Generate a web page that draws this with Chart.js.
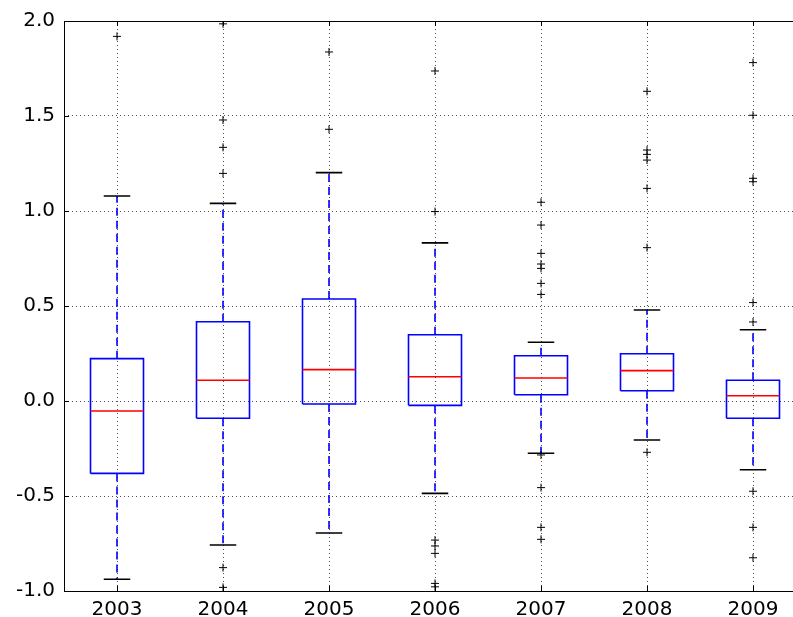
<!DOCTYPE html>
<html>
<head>
<meta charset="utf-8">
<script src="https://cdn.jsdelivr.net/npm/chart.js@4/dist/chart.umd.min.js"></script>
<style>
  html, body { margin: 0; padding: 0; background: #fff; overflow: hidden; }
  #clip { width: 793px; height: 617px; overflow: hidden; position: relative; }
  #box-chart { display: block; position: absolute; left: 0; top: 0; }
</style>
</head>
<body>
<div id="clip"><canvas id="box-chart" width="811" height="617"></canvas></div>
<script>
// box plot stats per year
const years = ['2003', '2004', '2005', '2006', '2007', '2008', '2009'];
const q1 = [-0.381, -0.091, -0.016, -0.023, 0.033, 0.054, -0.091];
const q3 = [0.223, 0.417, 0.537, 0.349, 0.238, 0.249, 0.109];
const medians = [-0.053, 0.109, 0.165, 0.128, 0.121, 0.160, 0.028];
const whiskLow = [-0.938, -0.758, -0.695, -0.486, -0.275, -0.205, -0.362];
const whiskHigh = [1.079, 1.040, 1.202, 0.832, 0.309, 0.479, 0.375];
const fliers = [
    [1.919],
    [1.985, 1.479, 1.335, 1.198, -0.877, -0.981],
    [1.837, 1.430],
    [1.737, 0.997, -0.732, -0.763, -0.802, -0.960, -0.978],
    [1.046, 0.926, 0.777, 0.721, 0.698, 0.619, 0.561, -0.284, -0.456, -0.665, -0.728],
    [1.630, 1.321, 1.298, 1.268, 1.119, 0.807, -0.270],
    [1.781, 1.504, 1.172, 1.154, 0.518, 0.416, -0.475, -0.665, -0.825]
];
const yTicks = [-1.0, -0.5, 0.0, 0.5, 1.0, 1.5, 2.0];

document.addEventListener('DOMContentLoaded', () => {
    const boxHalf = 0.25;
    const capHalf = 0.125;

    const boxPts = [], medPts = [], whiskPts = [], capPts = [], flierPts = [];
    years.forEach((y, i) => {
        const x = i + 1;
        boxPts.push({x: x - boxHalf, y: q1[i]}, {x: x + boxHalf, y: q1[i]},
                    {x: x + boxHalf, y: q3[i]}, {x: x - boxHalf, y: q3[i]},
                    {x: x - boxHalf, y: q1[i]}, {x: x, y: null});
        medPts.push({x: x - boxHalf, y: medians[i]}, {x: x + boxHalf, y: medians[i]}, {x: x, y: null});
        whiskPts.push({x: x, y: q3[i]}, {x: x, y: whiskHigh[i]}, {x: x, y: null},
                      {x: x, y: q1[i]}, {x: x, y: whiskLow[i]}, {x: x, y: null});
        capPts.push({x: x - capHalf, y: whiskHigh[i]}, {x: x + capHalf, y: whiskHigh[i]}, {x: x, y: null},
                    {x: x - capHalf, y: whiskLow[i]}, {x: x + capHalf, y: whiskLow[i]}, {x: x, y: null});
        fliers[i].forEach(v => flierPts.push({x: x, y: v}));
    });

    const lineDs = (data, color, width, dash) => ({
        data: data,
        showLine: true,
        spanGaps: false,
        borderColor: color,
        borderWidth: width,
        borderDash: dash || [],
        borderJoinStyle: 'miter',
        pointRadius: 0,
        fill: false,
        tension: 0
    });

    // frame + inward ticks like matplotlib classic
    const framePlugin = {
        id: 'frame',
        afterDraw(chart) {
            const {ctx, chartArea: a, scales} = chart;
            ctx.save();
            ctx.strokeStyle = '#000';
            ctx.lineWidth = 1;
            ctx.setLineDash([]);
            ctx.beginPath();
            yTicks.forEach(v => {
                const py = Math.round(scales.y.getPixelForValue(v)) + 0.5;
                ctx.moveTo(a.left, py); ctx.lineTo(a.left + 5, py);
            });
            years.forEach((y, i) => {
                const px = Math.round(scales.x.getPixelForValue(i + 1)) + 0.5;
                ctx.moveTo(px, a.bottom); ctx.lineTo(px, a.bottom - 5);
                ctx.moveTo(px, a.top); ctx.lineTo(px, a.top + 5);
            });
            ctx.stroke();
            ctx.strokeRect(Math.round(a.left) + 0.5, Math.round(a.top) + 0.5,
                           Math.round(a.width), Math.round(a.height));
            ctx.restore();
        }
    };

    const ctx = document.getElementById('box-chart').getContext('2d');
    new Chart(ctx, {
        type: 'scatter',
        data: {
            datasets: [
                {
                    data: flierPts,
                    pointStyle: 'cross',
                    pointRadius: 4,
                    pointBorderColor: '#000',
                    pointBorderWidth: 1,
                    showLine: false
                },
                lineDs(medPts, '#ff0000', 1.6),
                lineDs(capPts, '#000000', 1.6),
                lineDs(boxPts, '#0000ff', 1.6),
                lineDs(whiskPts, '#0000ff', 1.6, [8, 5])
            ]
        },
        options: {
            responsive: false,
            animation: false,
            layout: { padding: { top: 21, left: 0, right: 0, bottom: 0 } },
            plugins: { legend: { display: false }, tooltip: { enabled: false } },
            scales: {
                x: {
                    type: 'linear',
                    min: 0.5,
                    max: 7.5,
                    afterBuildTicks: s => { s.ticks = years.map((y, i) => ({ value: i + 1 })); },
                    afterFit: s => { s.height = 26; },
                    ticks: {
                        callback: v => years[v - 1],
                        color: '#000',
                        font: { family: 'DejaVu Sans', size: 20 },
                        padding: 7,
                        maxRotation: 0,
                        autoSkip: false
                    },
                    grid: { color: 'rgba(0,0,0,0.7)', lineWidth: 1, drawTicks: false },
                    border: { display: false, dash: [1, 3] }
                },
                y: {
                    min: -1,
                    max: 2,
                    afterBuildTicks: s => { s.ticks = yTicks.map(v => ({ value: v })); },
                    afterFit: s => { s.width = 64; },
                    ticks: {
                        callback: v => v.toFixed(1),
                        color: '#000',
                        font: { family: 'DejaVu Sans', size: 20 },
                        padding: 9
                    },
                    grid: { color: 'rgba(0,0,0,0.7)', lineWidth: 1, drawTicks: false },
                    border: { display: false, dash: [1, 3] }
                }
            }
        },
        plugins: [framePlugin]
    });
});
</script>
</body>
</html>
